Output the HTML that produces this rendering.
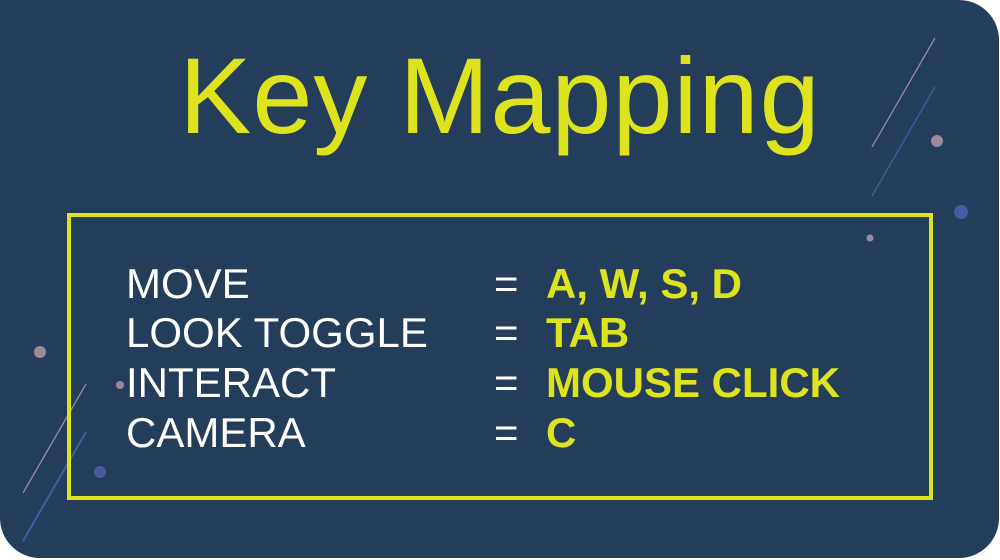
<!DOCTYPE html>
<html><head><style>
html,body{margin:0;padding:0;background:#fff;}
.card{position:absolute;left:0;top:0;width:999px;height:558px;background:#243d5b;border-radius:0 40px 40px 40px;overflow:hidden;font-family:"Liberation Sans",sans-serif;}
.title{position:absolute;left:0;width:1000px;text-align:center;top:42px;font-size:108px;color:#dde41e;line-height:1;letter-spacing:1px;}
.box{position:absolute;left:67px;top:213px;width:858px;height:279px;border:4px solid #dde41e;}
.row{position:absolute;left:0;width:1000px;font-size:42px;line-height:1;}
.k{position:absolute;left:126px;color:#fff;}
.e{position:absolute;left:494px;color:#fff;}
.v{position:absolute;left:546px;color:#dde41e;font-weight:bold;}
</style></head><body>
<div class="card">
<svg width="1000" height="560" style="position:absolute;left:0;top:0">
<line x1="872" y1="147" x2="935" y2="38" stroke="#9a8a9c" stroke-width="1.3"/>
<line x1="872" y1="196" x2="935" y2="87" stroke="#4a5aa0" stroke-width="1.3"/>
<circle cx="937" cy="141" r="6" fill="#9a8a9c"/>
<circle cx="961" cy="212" r="7" fill="#4a5aa0"/>
<circle cx="870" cy="238" r="3.5" fill="#9a8a9c"/>
<circle cx="40" cy="352" r="6" fill="#9a8a9c"/>
<line x1="23" y1="493" x2="86" y2="384" stroke="#9a8a9c" stroke-width="1.3"/>
<line x1="23" y1="541" x2="86" y2="432" stroke="#4a5aa0" stroke-width="2"/>
<circle cx="100" cy="472" r="6" fill="#4a5aa0"/>
<circle cx="120" cy="385" r="4" fill="#9a8a9c"/>
</svg>
<div class="title">Key Mapping</div>
<div class="box"></div>
<div class="row" style="top:263px"><span class="k">MOVE</span><span class="e">=</span><span class="v">A, W, S, D</span></div>
<div class="row" style="top:312px"><span class="k">LOOK TOGGLE</span><span class="e">=</span><span class="v">TAB</span></div>
<div class="row" style="top:362px"><span class="k">INTERACT</span><span class="e">=</span><span class="v">MOUSE CLICK</span></div>
<div class="row" style="top:412px"><span class="k">CAMERA</span><span class="e">=</span><span class="v">C</span></div>
</div>
</body></html>
